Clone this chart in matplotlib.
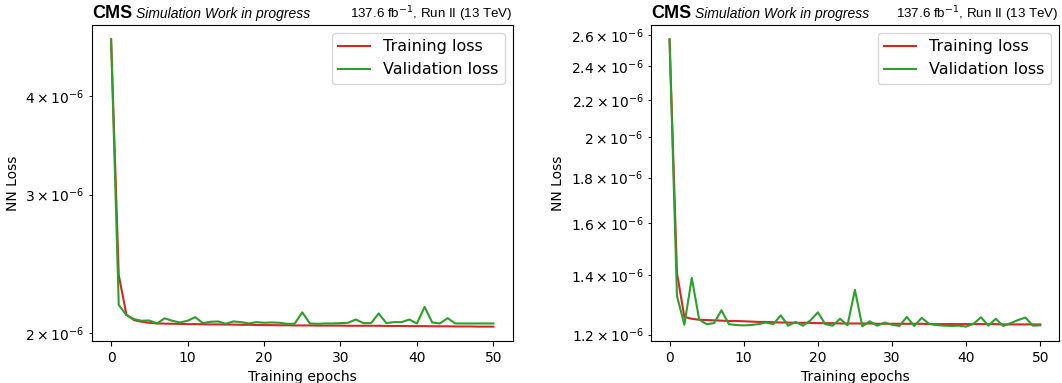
import numpy as np
import matplotlib.pyplot as plt

# loss histories (50 epochs + initial)
epochs = np.arange(51)

train_a = [4.72e-6, 2.372e-6, 2.113e-6, 2.079e-6, 2.069e-6, 2.063e-6, 2.059e-6, 2.058e-6, 2.057e-6, 2.056e-6,
           2.055e-6, 2.055e-6, 2.054e-6, 2.053e-6, 2.053e-6, 2.052e-6, 2.052e-6, 2.051e-6, 2.051e-6, 2.050e-6,
           2.049e-6, 2.049e-6, 2.048e-6, 2.048e-6, 2.047e-6, 2.047e-6, 2.047e-6, 2.046e-6, 2.046e-6, 2.046e-6,
           2.046e-6, 2.045e-6, 2.045e-6, 2.045e-6, 2.045e-6, 2.045e-6, 2.044e-6, 2.044e-6, 2.044e-6, 2.043e-6,
           2.043e-6, 2.043e-6, 2.042e-6, 2.042e-6, 2.042e-6, 2.041e-6, 2.041e-6, 2.041e-6, 2.040e-6, 2.040e-6,
           2.040e-6]
val_a = [4.72e-6, 2.174e-6, 2.110e-6, 2.085e-6, 2.075e-6, 2.077e-6, 2.059e-6, 2.090e-6, 2.075e-6, 2.065e-6,
         2.075e-6, 2.097e-6, 2.061e-6, 2.069e-6, 2.071e-6, 2.057e-6, 2.071e-6, 2.067e-6, 2.059e-6, 2.067e-6,
         2.063e-6, 2.065e-6, 2.063e-6, 2.057e-6, 2.057e-6, 2.127e-6, 2.059e-6, 2.057e-6, 2.059e-6, 2.059e-6,
         2.061e-6, 2.063e-6, 2.083e-6, 2.061e-6, 2.061e-6, 2.120e-6, 2.061e-6, 2.067e-6, 2.067e-6, 2.083e-6,
         2.059e-6, 2.161e-6, 2.065e-6, 2.059e-6, 2.091e-6, 2.059e-6, 2.059e-6, 2.059e-6, 2.059e-6, 2.059e-6,
         2.059e-6]

train_b = [2.572e-6, 1.407e-6, 1.256e-6, 1.250e-6, 1.247e-6, 1.246e-6, 1.245e-6, 1.244e-6, 1.243e-6, 1.243e-6,
           1.242e-6, 1.241e-6, 1.240e-6, 1.240e-6, 1.239e-6, 1.238e-6, 1.238e-6, 1.237e-6, 1.237e-6, 1.237e-6,
           1.236e-6, 1.236e-6, 1.236e-6, 1.235e-6, 1.235e-6, 1.235e-6, 1.235e-6, 1.235e-6, 1.234e-6, 1.234e-6,
           1.234e-6, 1.234e-6, 1.234e-6, 1.234e-6, 1.234e-6, 1.233e-6, 1.233e-6, 1.233e-6, 1.233e-6, 1.233e-6,
           1.233e-6, 1.233e-6, 1.233e-6, 1.233e-6, 1.233e-6, 1.232e-6, 1.232e-6, 1.232e-6, 1.232e-6, 1.232e-6,
           1.232e-6]
val_b = [2.572e-6, 1.326e-6, 1.231e-6, 1.389e-6, 1.247e-6, 1.233e-6, 1.236e-6, 1.278e-6, 1.233e-6, 1.230e-6,
         1.229e-6, 1.230e-6, 1.233e-6, 1.238e-6, 1.233e-6, 1.261e-6, 1.228e-6, 1.240e-6, 1.228e-6, 1.245e-6,
         1.271e-6, 1.233e-6, 1.228e-6, 1.250e-6, 1.229e-6, 1.347e-6, 1.226e-6, 1.242e-6, 1.228e-6, 1.238e-6,
         1.231e-6, 1.227e-6, 1.256e-6, 1.227e-6, 1.253e-6, 1.234e-6, 1.230e-6, 1.228e-6, 1.227e-6, 1.228e-6,
         1.225e-6, 1.234e-6, 1.255e-6, 1.228e-6, 1.250e-6, 1.227e-6, 1.236e-6, 1.246e-6, 1.254e-6, 1.228e-6,
         1.229e-6]

lumi_text = r"137.6 fb$^{-1}$, Run II (13 TeV)"


def draw(ax, train, val):
    ax.plot(epochs, train, color='#d62728', lw=1.5, label='Training loss')
    ax.plot(epochs, val, color='#2ca02c', lw=1.5, label='Validation loss')
    ax.set_yscale('log')
    ax.set_xlabel('Training epochs', fontsize=10)
    ax.set_ylabel('NN Loss', fontsize=10)
    ax.tick_params(labelsize=10)
    ax.legend(loc='upper right', fontsize=11.5)
    # experiment label above the frame
    ax.annotate('CMS', xy=(0, 1), xycoords='axes fraction', xytext=(0, 5), textcoords='offset points',
                fontsize=13, fontweight='bold', family='Liberation Sans', va='baseline', ha='left')
    ax.annotate('Simulation Work in progress', xy=(0, 1), xycoords='axes fraction', xytext=(32, 5),
                textcoords='offset points', fontsize=10, style='italic', family='Liberation Sans',
                va='baseline', ha='left')
    ax.annotate(lumi_text, xy=(1, 1), xycoords='axes fraction', xytext=(0, 5), textcoords='offset points',
                fontsize=9.6, family='Liberation Sans', va='baseline', ha='right')


fig = plt.figure(figsize=(10.62, 3.83), dpi=100)
ax1 = fig.add_axes([0.0866, 0.1097, 0.396, 0.825])
ax2 = fig.add_axes([0.613, 0.1097, 0.384, 0.825])
draw(ax1, train_a, val_a)
draw(ax2, train_b, val_b)
fig.savefig('out.png', dpi=100)
